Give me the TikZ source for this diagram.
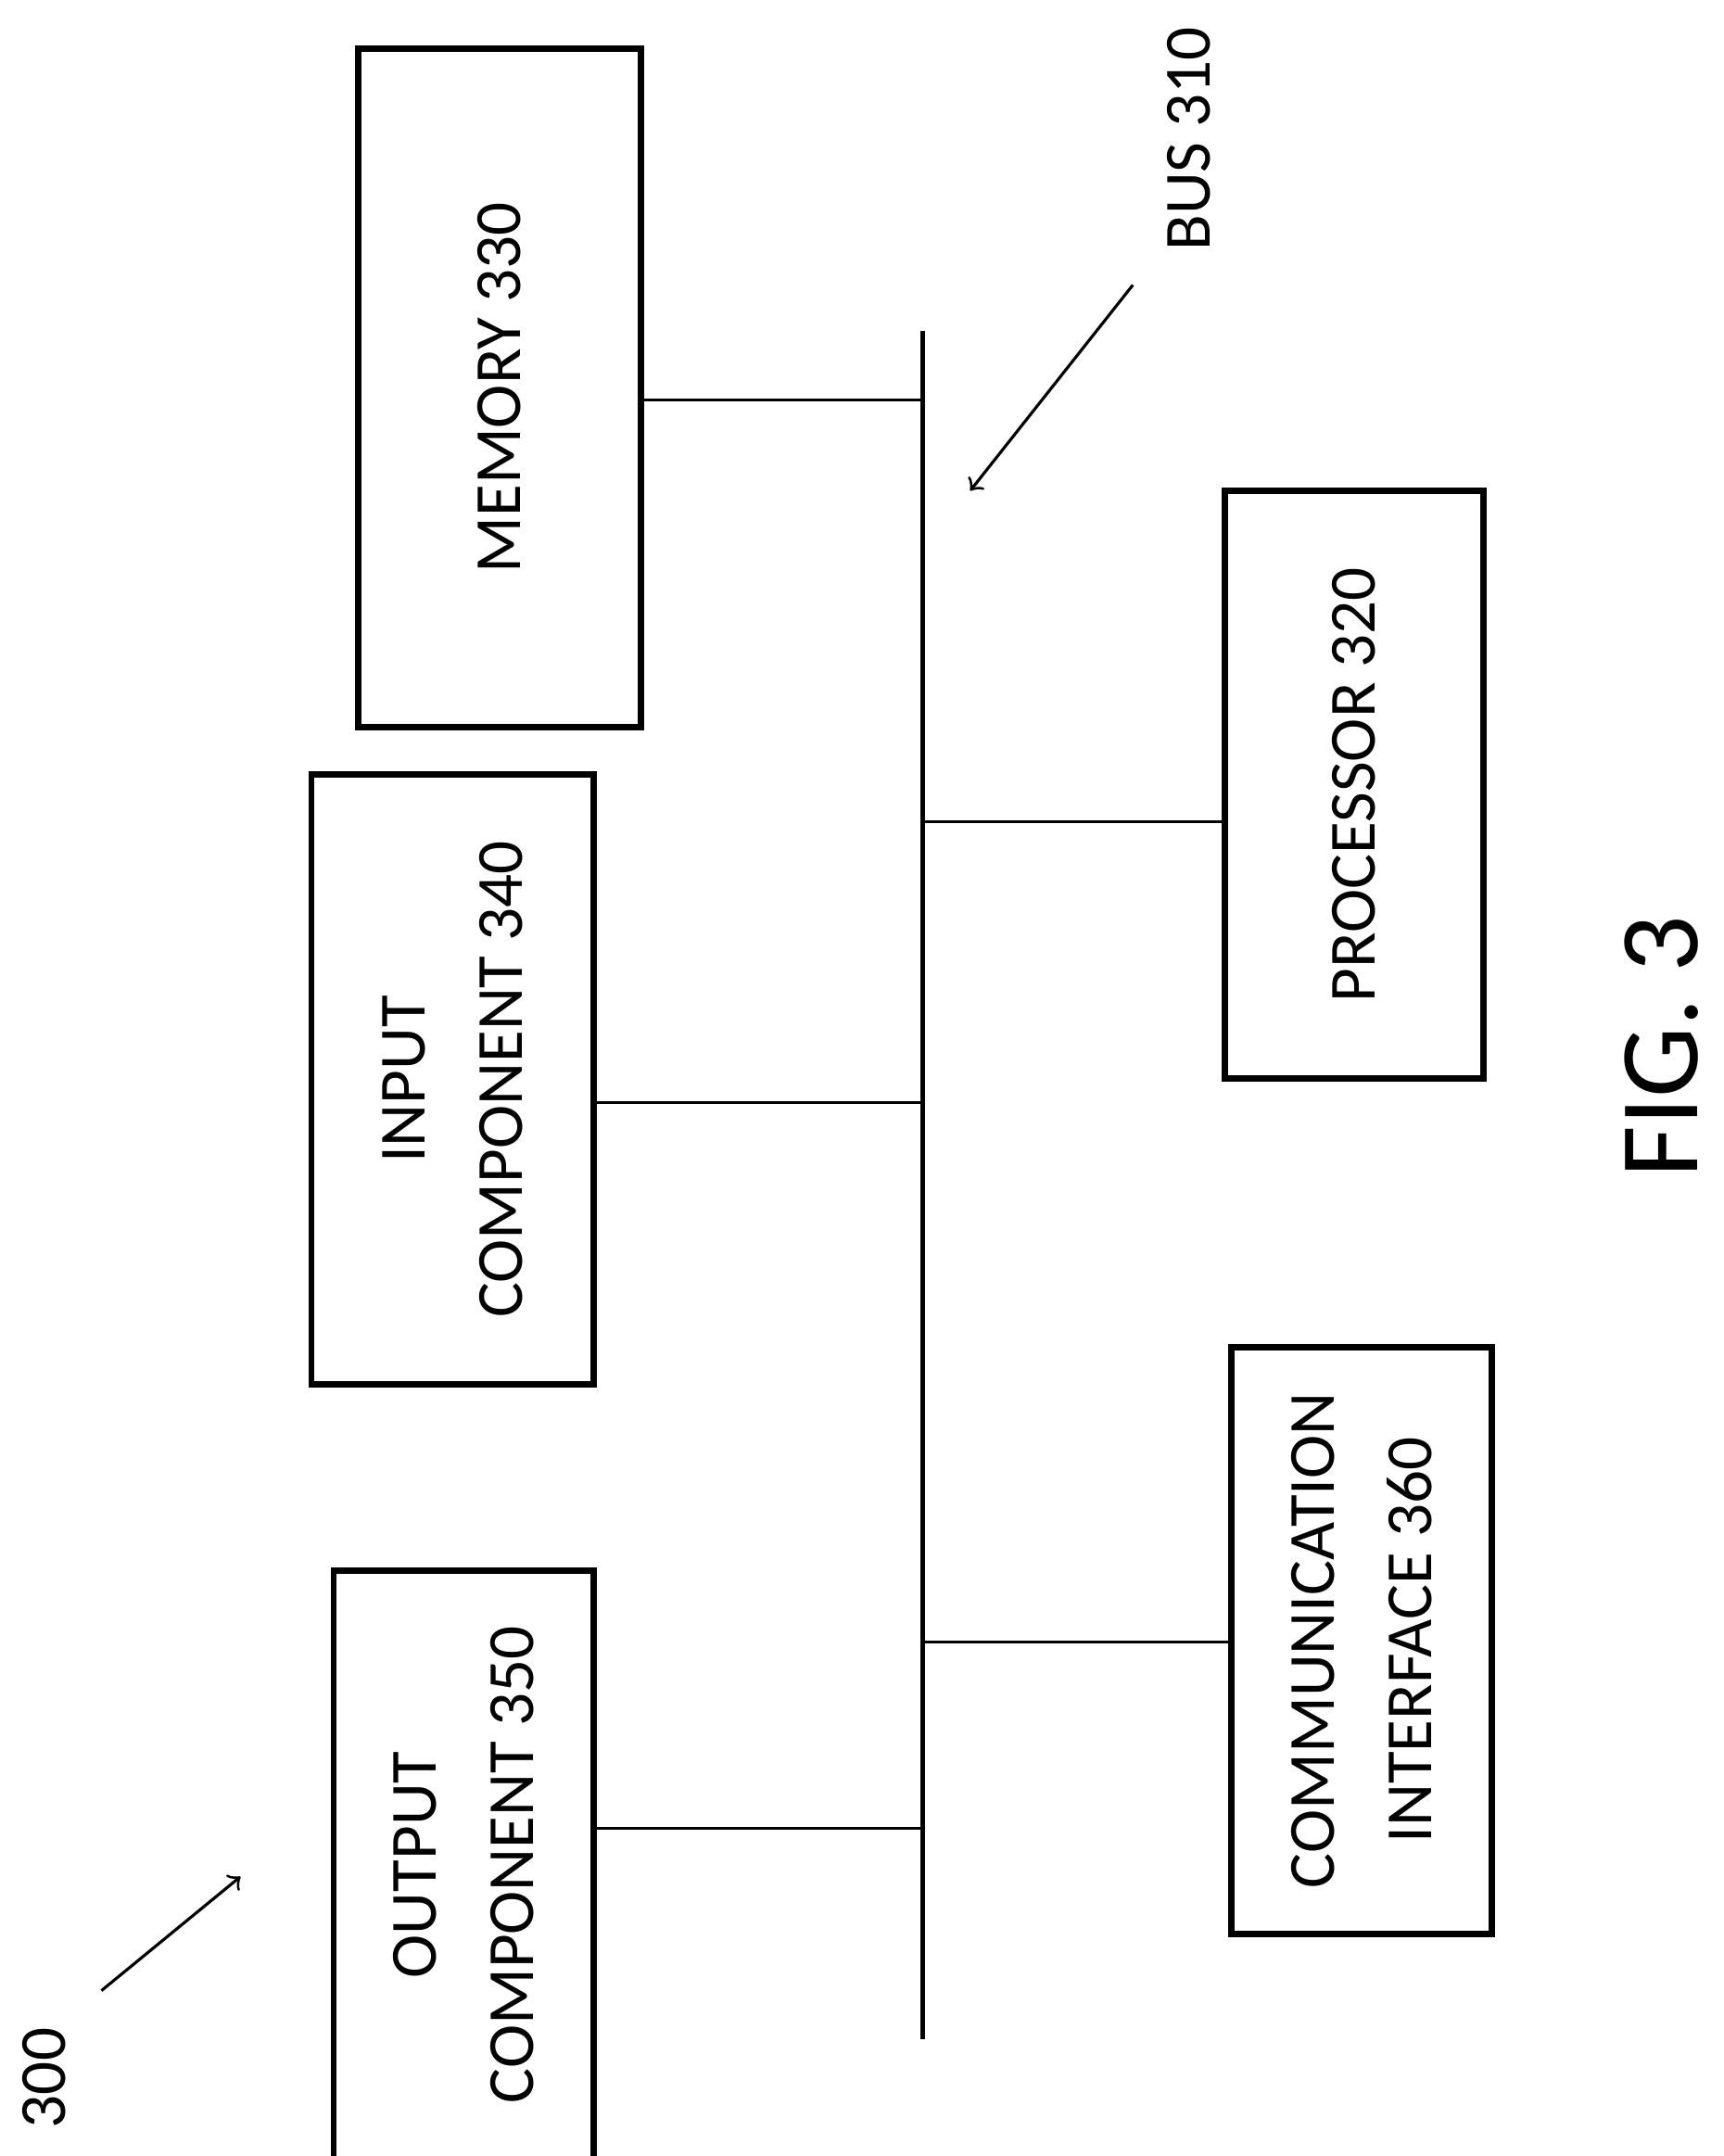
\documentclass[tikz,border=0pt]{standalone}
\usepackage{fontspec}
\setmainfont{Carlito}
\usetikzlibrary{positioning}
\begin{document}
\begin{tikzpicture}[box/.style={draw,line width=1.3pt,rotate=90,align=center,font=\fontsize{13.5}{20}\selectfont,inner sep=0pt},
  link/.style={line width=0.6pt},
  lbl/.style={rotate=90,font=\fontsize{13.5}{16}\selectfont}]
  \useasboundingbox (0,0) rectangle (12.4,-15.51);
  % boxes
  \node[box,minimum width=4.88cm,minimum height=2.03cm] (mem) at (3.595,-2.79) {MEMORY 330};
  \node[box,minimum width=4.39cm,minimum height=2.03cm] (inp) at (3.255,-7.765) {INPUT\\COMPONENT 340};
  \node[box,minimum width=4.23cm,minimum height=1.87cm] (out) at (3.335,-13.415) {OUTPUT\\COMPONENT 350};
  \node[box,minimum width=4.23cm,minimum height=1.86cm] (proc) at (9.74,-5.645) {PROCESSOR 320};
  \node[box,minimum width=4.22cm,minimum height=1.87cm] (comm) at (9.795,-11.80) {COMMUNICATION\\INTERFACE 360};
  % bus
  \coordinate (bustop) at (6.64,-2.38);
  \coordinate (busbot) at (6.64,-14.67);
  \draw[line width=0.9pt] (bustop) -- (busbot);
  \coordinate (bmem) at (6.64,-2.88);
  \coordinate (bproc) at (6.64,-5.91);
  \coordinate (binp) at (6.64,-7.93);
  \coordinate (bcomm) at (6.64,-11.81);
  \coordinate (bout) at (6.64,-13.15);
  \draw[link] (mem.south |- bmem) -- (bmem);
  \draw[link] (inp.south |- binp) -- (binp);
  \draw[link] (out.south |- bout) -- (bout);
  \draw[link] (bproc) -- (proc.north |- bproc);
  \draw[link] (bcomm) -- (comm.north |- bcomm);
  % labels
  \node[lbl] (buslbl) at (8.55,-1.0) {BUS 310};
  \coordinate (busarr) at (8.15,-2.05);
  \draw[link,->] (busarr) -- (6.98,-3.53);
  \node[lbl] (numlbl) at (0.32,-14.95) {300};
  \coordinate (numarr) at (0.73,-14.32);
  \draw[link,->] (numarr) -- (1.73,-13.5);
  \node[rotate=90,font=\fontsize{23}{26}\selectfont] (fig) at (11.95,-7.53) {FIG. 3};
\end{tikzpicture}
\end{document}
